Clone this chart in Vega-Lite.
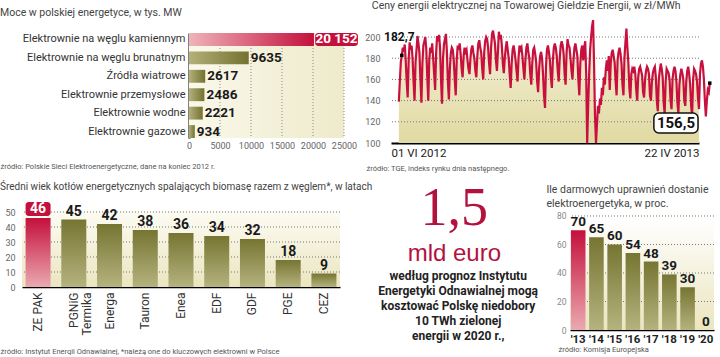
{
"$schema": "https://vega.github.io/schema/vega-lite/v6.json",
"padding": {"left": 0, "top": 1, "right": 0, "bottom": 0},
"background": "white",
"config": {
  "font": "Roboto, Liberation Sans, sans-serif",
  "view": {"stroke": null},
  "title": {"fontSize": 10.5, "fontWeight": "normal", "color": "#444", "anchor": "start", "frame": "bounds"},
  "axis": {"ticks": false, "grid": false, "labelOverlap": false, "labelLimit": 0}
},
"datasets": {
  "tge": [
{"d":8,"v":139},{"d":9,"v":158},{"d":10,"v":176},{"d":11,"v":182.7},{"d":12,"v":190},{"d":13,"v":186},{"d":14,"v":193},{"d":15,"v":178},{"d":16,"v":158},{"d":17,"v":143},
{"d":18,"v":178},{"d":19,"v":195},{"d":20,"v":188},{"d":21,"v":192},{"d":22,"v":180},{"d":23,"v":158},{"d":24,"v":140},
{"d":25,"v":176},{"d":26,"v":188},{"d":27,"v":201},{"d":28,"v":194},{"d":29,"v":185},{"d":30,"v":160},{"d":31,"v":138},
{"d":32,"v":175},{"d":33,"v":192},{"d":34,"v":196},{"d":35,"v":200},{"d":36,"v":188},{"d":37,"v":162},{"d":38,"v":140},
{"d":39,"v":178},{"d":40,"v":190},{"d":41,"v":185},{"d":42,"v":194},{"d":43,"v":180},{"d":44,"v":165},{"d":45,"v":150},
{"d":46,"v":185},{"d":47,"v":201},{"d":48,"v":196},{"d":49,"v":202},{"d":50,"v":190},{"d":51,"v":160},{"d":52,"v":137},
{"d":53,"v":180},{"d":54,"v":193},{"d":55,"v":198},{"d":56,"v":203},{"d":57,"v":186},{"d":58,"v":158},{"d":59,"v":141},
{"d":60,"v":170},{"d":61,"v":185},{"d":62,"v":190},{"d":63,"v":188},{"d":64,"v":178},{"d":65,"v":160},{"d":66,"v":145},
{"d":67,"v":178},{"d":68,"v":192},{"d":69,"v":188},{"d":70,"v":194},{"d":71,"v":184},{"d":72,"v":170},{"d":73,"v":162},
{"d":74,"v":182},{"d":75,"v":190},{"d":76,"v":186},{"d":77,"v":188},{"d":78,"v":178},{"d":79,"v":170},{"d":80,"v":165},
{"d":81,"v":180},{"d":82,"v":189},{"d":83,"v":192},{"d":84,"v":185},{"d":85,"v":180},{"d":86,"v":168},{"d":87,"v":162},
{"d":88,"v":182},{"d":89,"v":194},{"d":90,"v":197},{"d":91,"v":190},{"d":92,"v":185},{"d":93,"v":170},{"d":94,"v":160},
{"d":95,"v":185},{"d":96,"v":196},{"d":97,"v":200},{"d":98,"v":198},{"d":99,"v":190},{"d":100,"v":175},{"d":101,"v":165},
{"d":102,"v":190},{"d":103,"v":203},{"d":104,"v":206},{"d":105,"v":200},{"d":106,"v":194},{"d":107,"v":178},{"d":108,"v":168},
{"d":109,"v":186},{"d":110,"v":205},{"d":111,"v":198},{"d":112,"v":202},{"d":113,"v":192},{"d":114,"v":175},{"d":115,"v":166},
{"d":116,"v":180},{"d":117,"v":190},{"d":118,"v":196},{"d":119,"v":188},{"d":120,"v":180},{"d":121,"v":165},{"d":122,"v":152},
{"d":123,"v":175},{"d":124,"v":188},{"d":125,"v":192},{"d":126,"v":186},{"d":127,"v":178},{"d":128,"v":168},{"d":129,"v":158},
{"d":130,"v":180},{"d":131,"v":192},{"d":132,"v":188},{"d":133,"v":190},{"d":134,"v":182},{"d":135,"v":170},{"d":136,"v":160},
{"d":137,"v":178},{"d":138,"v":190},{"d":139,"v":194},{"d":140,"v":186},{"d":141,"v":180},{"d":142,"v":165},{"d":143,"v":155},
{"d":144,"v":175},{"d":145,"v":188},{"d":146,"v":190},{"d":147,"v":184},{"d":148,"v":176},{"d":149,"v":158},{"d":150,"v":148},
{"d":151,"v":170},{"d":152,"v":182},{"d":153,"v":186},{"d":154,"v":180},{"d":155,"v":165},{"d":156,"v":145},{"d":157,"v":133},
{"d":158,"v":172},{"d":159,"v":188},{"d":160,"v":192},{"d":161,"v":186},{"d":162,"v":178},{"d":163,"v":162},{"d":164,"v":152},
{"d":165,"v":178},{"d":166,"v":190},{"d":167,"v":194},{"d":168,"v":190},{"d":169,"v":182},{"d":170,"v":168},{"d":171,"v":158},
{"d":172,"v":180},{"d":173,"v":192},{"d":174,"v":196},{"d":175,"v":192},{"d":176,"v":184},{"d":177,"v":165},{"d":178,"v":155},
{"d":179,"v":185},{"d":180,"v":198},{"d":181,"v":192},{"d":182,"v":190},{"d":183,"v":180},{"d":184,"v":168},{"d":185,"v":160},
{"d":186,"v":178},{"d":187,"v":190},{"d":188,"v":194},{"d":189,"v":188},{"d":190,"v":182},{"d":191,"v":160},{"d":192,"v":145},
{"d":193,"v":175},{"d":194,"v":188},{"d":195,"v":192},
{"d":196,"v":178},{"d":197,"v":190},{"d":198,"v":196},{"d":199,"v":165},{"d":200,"v":100},{"d":201,"v":135},{"d":202,"v":165},
{"d":203,"v":188},{"d":204,"v":200},{"d":205,"v":210},{"d":206,"v":216},{"d":207,"v":175},{"d":208,"v":125},{"d":209,"v":100},
{"d":210,"v":118},{"d":211,"v":135},{"d":212,"v":128},{"d":213,"v":142},{"d":214,"v":136},{"d":215,"v":152},{"d":216,"v":145},
{"d":217,"v":162},{"d":218,"v":155},{"d":219,"v":170},{"d":220,"v":178},{"d":221,"v":168},{"d":222,"v":182},{"d":223,"v":150},
{"d":224,"v":175},{"d":225,"v":185},{"d":226,"v":188},{"d":227,"v":182},{"d":228,"v":176},{"d":229,"v":158},{"d":230,"v":145},
{"d":231,"v":178},{"d":232,"v":186},{"d":233,"v":190},{"d":234,"v":184},{"d":235,"v":175},{"d":236,"v":155},{"d":237,"v":145},
{"d":238,"v":180},{"d":239,"v":195},{"d":240,"v":208},{"d":241,"v":190},{"d":242,"v":175},{"d":243,"v":152},{"d":244,"v":142},
{"d":245,"v":165},{"d":246,"v":170},{"d":247,"v":168},{"d":248,"v":172},{"d":249,"v":166},{"d":250,"v":150},{"d":251,"v":140},
{"d":252,"v":162},{"d":253,"v":170},{"d":254,"v":172},{"d":255,"v":168},{"d":256,"v":164},{"d":257,"v":148},{"d":258,"v":143},
{"d":259,"v":160},{"d":260,"v":168},{"d":261,"v":172},{"d":262,"v":170},{"d":263,"v":165},{"d":264,"v":145},{"d":265,"v":140},
{"d":266,"v":158},{"d":267,"v":166},{"d":268,"v":170},{"d":269,"v":172},{"d":270,"v":162},{"d":271,"v":140},{"d":272,"v":130},
{"d":273,"v":160},{"d":274,"v":168},{"d":275,"v":175},{"d":276,"v":170},{"d":277,"v":162},{"d":278,"v":138},{"d":279,"v":128},
{"d":280,"v":158},{"d":281,"v":170},{"d":282,"v":168},{"d":283,"v":166},{"d":284,"v":160},{"d":285,"v":140},{"d":286,"v":132},
{"d":287,"v":160},{"d":288,"v":168},{"d":289,"v":172},{"d":290,"v":168},{"d":291,"v":158},{"d":292,"v":138},{"d":293,"v":128},
{"d":294,"v":155},{"d":295,"v":165},{"d":296,"v":170},{"d":297,"v":166},{"d":298,"v":160},{"d":299,"v":140},{"d":300,"v":135},
{"d":301,"v":158},{"d":302,"v":168},{"d":303,"v":172},{"d":304,"v":165},{"d":305,"v":155},{"d":306,"v":135},{"d":307,"v":125},
{"d":308,"v":160},{"d":309,"v":170},{"d":310,"v":168},{"d":311,"v":165},{"d":312,"v":158},{"d":313,"v":142},{"d":314,"v":132},
{"d":315,"v":165},{"d":316,"v":175},{"d":317,"v":178},{"d":318,"v":172},{"d":319,"v":160},{"d":320,"v":140},{"d":321,"v":125},
{"d":322,"v":140},{"d":323,"v":150},{"d":324,"v":148},{"d":325,"v":156.5}
  ]
},
"spacing": 9,
"vconcat": [
{
"spacing": 6,
"hconcat": [
{
  "width": 322, "height": 105,
  "title": {"text": "Moce w polskiej energetyce, w tys. MW", "offset": 14},
  "data": {"values": [
    {"k": "Elektrownie na węglu kamiennym", "v": 20152, "t": "20 152", "hi": 1},
    {"k": "Elektrownie na węglu brunatnym", "v": 9635, "t": "9635", "hi": 0},
    {"k": "Źródła wiatrowe", "v": 2617, "t": "2617", "hi": 0},
    {"k": "Elektrownie przemysłowe", "v": 2486, "t": "2486", "hi": 0},
    {"k": "Elektrownie wodne", "v": 2221, "t": "2221", "hi": 0},
    {"k": "Elektrownie gazowe", "v": 934, "t": "934", "hi": 0}
  ]},
  "layer": [
    {"data": {"values": [{}]}, "mark": {"type": "rect", "fill": {"gradient": "linear", "x1": 0, "y1": 0, "x2": 1, "y2": 0, "stops": [{"offset": 0, "color": "#faf8ea"}, {"offset": 1, "color": "#eeeacb"}]}},
     "encoding": {"x": {"datum": 0, "type": "quantitative"}, "x2": {"datum": 25000}}},
    {"data": {"values": [{"g": 5000}, {"g": 10000}, {"g": 15000}, {"g": 20000}, {"g": 25000}]}, "mark": {"type": "rule", "color": "#8a8a8a", "strokeDash": [1, 2]},
     "encoding": {"x": {"field": "g", "type": "quantitative"}}},
    {"transform": [{"filter": "datum.hi == 0"}], "mark": {"type": "bar", "fill": {"gradient": "linear", "x1": 0, "y1": 0, "x2": 1, "y2": 0, "stops": [{"offset": 0, "color": "#b3b07a"}, {"offset": 1, "color": "#737230"}]}},
     "encoding": {
       "x": {"field": "v", "type": "quantitative", "scale": {"domain": [-26935, 25000], "nice": false, "zero": false},
             "axis": {"values": [0, 5000, 10000, 15000, 20000, 25000], "tickCount": 30, "labelFlush": false, "format": "d", "domain": false, "labelOverlap": false, "labelFontSize": 9, "labelColor": "#666", "labelPadding": 3,
                      "title": "źródło: Polskie Sieci Elektroenergetyczne, dane na koniec 2012 r.", "titleAnchor": "start", "titleAlign": "left", "titleX": -22, "titleFontSize": 7.5, "titleFontWeight": "normal", "titleColor": "#555", "titlePadding": 12}},
       "y": {"field": "k", "type": "nominal", "sort": null,
             "scale": {"domain": ["Elektrownie na węglu kamiennym", "Elektrownie na węglu brunatnym", "Źródła wiatrowe", "Elektrownie przemysłowe", "Elektrownie wodne", "Elektrownie gazowe"], "paddingInner": 0.3, "paddingOuter": 0},
             "axis": {"title": null, "offset": -167, "domainColor": "#000", "domainWidth": 2, "labelFontSize": 11, "labelColor": "#333", "labelPadding": 4}}
     }},
    {"transform": [{"filter": "datum.hi == 1"}], "mark": {"type": "bar", "fill": {"gradient": "linear", "x1": 0, "y1": 0, "x2": 1, "y2": 0, "stops": [{"offset": 0, "color": "#efb3ba"}, {"offset": 1, "color": "#c4103c"}]}},
     "encoding": {"x": {"field": "v", "type": "quantitative"}, "y": {"field": "k", "type": "nominal", "sort": null}}},
    {"transform": [{"filter": "datum.hi == 0"}], "mark": {"type": "text", "align": "left", "baseline": "middle", "dx": 2, "fontWeight": "bold", "fontSize": 13.5, "color": "#1a1a1a"},
     "encoding": {"x": {"field": "v", "type": "quantitative"}, "y": {"field": "k", "type": "nominal", "sort": null}, "text": {"field": "t"}}},
    {"transform": [{"filter": "datum.hi == 1"}], "mark": {"type": "rect", "fill": "#c4103c", "cornerRadius": 3},
     "encoding": {"x": {"datum": 20350}, "x2": {"datum": 27250}, "y": {"field": "k", "type": "nominal", "sort": null}}},
    {"transform": [{"filter": "datum.hi == 1"}], "mark": {"type": "text", "align": "center", "baseline": "middle", "fontWeight": "bold", "fontSize": 13.5, "color": "#ffffff"},
     "encoding": {"x": {"datum": 23800}, "y": {"field": "k", "type": "nominal", "sort": null}, "text": {"field": "t"}}}
  ]
},
{
  "width": 308, "height": 110,
  "title": {"text": "Ceny energii elektrycznej na Towarowej Giełdzie Energii, w zł/MWh", "offset": 4, "dx": 7},
  "layer": [
    {"data": {"name": "tge"}, "transform": [{"filter": "datum.d <= 314"}],
     "mark": {"type": "area", "fill": {"gradient": "linear", "x1": 0, "y1": 0, "x2": 0, "y2": 1, "stops": [{"offset": 0, "color": "#f7f4de"}, {"offset": 1, "color": "#e0d9a2"}]}},
     "encoding": {
       "x": {"field": "d", "type": "quantitative", "scale": {"domain": [0, 314], "nice": false, "zero": false},
             "axis": {"values": [0, 314], "tickCount": 30, "labelExpr": "datum.value == 0 ? '01 VI 2012' : '22 IV 2013'", "labelFlush": true, "labelOverlap": false, "domainColor": "#000", "domainWidth": 2, "labelFontSize": 11.5, "labelColor": "#222", "labelPadding": 4,
                      "title": "źródło: TGE, indeks rynku dnia następnego.", "titleAnchor": "start", "titleAlign": "left", "titleX": -25, "titleFontSize": 7.5, "titleFontWeight": "normal", "titleColor": "#555", "titlePadding": 6}},
       "y": {"field": "v", "type": "quantitative", "scale": {"domain": [100, 203.8], "nice": false, "zero": false},
             "axis": {"values": [100, 120, 140, 160, 180, 200], "tickCount": 30, "labelOverlap": false, "domain": false, "labelFontSize": 9, "labelColor": "#666", "labelPadding": 11, "title": null}},
       "y2": {"datum": 100}
     }},
    {"data": {"values": [{"g": 120}, {"g": 140}, {"g": 160}, {"g": 180}, {"g": 200}]}, "mark": {"type": "rule", "color": "#777", "strokeDash": [1, 2]},
     "encoding": {"y": {"field": "g", "type": "quantitative"}}},
    {"data": {"name": "tge"}, "mark": {"type": "line", "color": "#c8103e", "strokeWidth": 2.2},
     "encoding": {"x": {"field": "d", "type": "quantitative"}, "y": {"field": "v", "type": "quantitative"}}},
    {"data": {"values": [{"d": 11, "v": 182.7}, {"d": 325, "v": 156.5}]}, "mark": {"type": "square", "color": "#000", "opacity": 1, "size": 12},
     "encoding": {"x": {"field": "d", "type": "quantitative"}, "y": {"field": "v", "type": "quantitative"}}},
    {"data": {"values": [{"d": 8.5, "v": 200, "t": "182,7"}]}, "mark": {"type": "text", "baseline": "middle", "align": "center", "fontWeight": "bold", "fontSize": 12, "color": "#111"},
     "encoding": {"x": {"field": "d", "type": "quantitative"}, "y": {"field": "v", "type": "quantitative"}, "text": {"field": "t"}}},
    {"data": {"values": [{}]}, "mark": {"type": "rect", "fill": "#ffffff", "stroke": "#111", "strokeWidth": 1.5, "cornerRadius": 5},
     "encoding": {"x": {"datum": 268}, "x2": {"datum": 313}, "y": {"datum": 109.5}, "y2": {"datum": 128.3}}},
    {"data": {"values": [{"d": 290.5, "v": 119, "t": "156,5"}]}, "mark": {"type": "text", "baseline": "middle", "align": "center", "fontWeight": "bold", "fontSize": 15, "color": "#111"},
     "encoding": {"x": {"field": "d", "type": "quantitative"}, "y": {"field": "v", "type": "quantitative"}, "text": {"field": "t"}}}
  ]
}
]
},
{
"spacing": 5,
"hconcat": [
{
  "width": 318, "height": 75,
  "title": {"text": "Średni wiek kotłów energetycznych spalających biomasę razem z węglem*, w latach", "offset": 10, "fontSize": 10},
  "data": {"values": [
    {"k": "ZE PAK", "v": 46, "hi": 1},
    {"k": "PGNiG Termika", "v": 45, "hi": 0},
    {"k": "Energa", "v": 42, "hi": 0},
    {"k": "Tauron", "v": 38, "hi": 0},
    {"k": "Enea", "v": 36, "hi": 0},
    {"k": "EDF", "v": 34, "hi": 0},
    {"k": "GDF", "v": 32, "hi": 0},
    {"k": "PGE", "v": 18, "hi": 0},
    {"k": "CEZ", "v": 9, "hi": 0}
  ]},
  "layer": [
    {"data": {"values": [{}]}, "mark": {"type": "rect", "fill": {"gradient": "linear", "x1": 0, "y1": 0, "x2": 0, "y2": 1, "stops": [{"offset": 0, "color": "#fdfcf4"}, {"offset": 1, "color": "#ebe5bf"}]}},
     "encoding": {"y": {"datum": 0, "type": "quantitative"}, "y2": {"datum": 51}}},
    {"data": {"values": [{"g": 10}, {"g": 20}, {"g": 30}, {"g": 40}, {"g": 50}]}, "mark": {"type": "rule", "color": "#777", "strokeDash": [1, 2]},
     "encoding": {"y": {"field": "g", "type": "quantitative"}}},
    {"transform": [{"filter": "datum.hi == 0"}], "mark": {"type": "bar", "fill": {"gradient": "linear", "x1": 0, "y1": 0, "x2": 0, "y2": 1, "stops": [{"offset": 0, "color": "#767532"}, {"offset": 1, "color": "#b5b37e"}]}},
     "encoding": {
       "x": {"field": "k", "type": "nominal", "sort": null,
             "scale": {"domain": ["ZE PAK", "PGNiG Termika", "Energa", "Tauron", "Enea", "EDF", "GDF", "PGE", "CEZ"], "paddingInner": 0.3, "paddingOuter": 0.1},
             "axis": {"labelAngle": -90, "labelExpr": "datum.value == 'PGNiG Termika' ? ['PGNiG', 'Termika'] : datum.value", "domainColor": "#000", "domainWidth": 1.5, "labelFontSize": 12, "labelColor": "#333", "labelPadding": 5, "labelLineHeight": 13,
                      "title": "źródło: Instytut Energii Odnawialnej, *należą one do kluczowych elektrowni w Polsce", "titleAnchor": "start", "titleAlign": "left", "titleX": -22, "titleFontSize": 7.5, "titleFontWeight": "normal", "titleColor": "#555", "titlePadding": 12}},
       "y": {"field": "v", "type": "quantitative", "scale": {"domain": [0, 50], "nice": false},
             "axis": {"values": [0, 10, 20, 30, 40, 50], "tickCount": 30, "labelOverlap": false, "domain": false, "labelFontSize": 9, "labelColor": "#666", "labelPadding": 7, "title": null}}
     }},
    {"transform": [{"filter": "datum.hi == 1"}], "mark": {"type": "bar", "fill": {"gradient": "linear", "x1": 0, "y1": 0, "x2": 0, "y2": 1, "stops": [{"offset": 0, "color": "#c4103c"}, {"offset": 1, "color": "#eba9b1"}]}},
     "encoding": {"x": {"field": "k", "type": "nominal", "sort": null}, "y": {"field": "v", "type": "quantitative"}}},
    {"transform": [{"filter": "datum.hi == 0"}], "mark": {"type": "text", "baseline": "bottom", "dy": -1, "fontWeight": "bold", "fontSize": 14, "color": "#1a1a1a"},
     "encoding": {"x": {"field": "k", "type": "nominal", "sort": null}, "y": {"field": "v", "type": "quantitative"}, "text": {"field": "v"}}},
    {"transform": [{"filter": "datum.hi == 1"}], "mark": {"type": "rect", "fill": "#c4103c", "cornerRadius": 3},
     "encoding": {"x": {"field": "k", "type": "nominal", "sort": null}, "y": {"datum": 47.3}, "y2": {"datum": 56.7}}},
    {"transform": [{"filter": "datum.hi == 1"}], "mark": {"type": "text", "baseline": "middle", "fontWeight": "bold", "fontSize": 14, "color": "#ffffff"},
     "encoding": {"x": {"field": "k", "type": "nominal", "sort": null}, "y": {"datum": 52}, "text": {"field": "v"}}}
  ]
},
{
  "width": 152, "height": 130,
  "data": {"values": [
    {"t": "według prognoz Instytutu", "n": 1},
    {"t": "Energetyki Odnawialnej mogą", "n": 2},
    {"t": "kosztować Polskę niedobory", "n": 3},
    {"t": "10 TWh zielonej", "n": 4},
    {"t": "energii w 2020 r.,", "n": 5}
  ]},
  "layer": [
    {"mark": {"type": "text", "align": "center", "baseline": "middle", "fontWeight": "bold", "fontSize": 12, "color": "#222"},
     "encoding": {
       "x": {"datum": 0.455, "type": "quantitative", "scale": {"domain": [0, 1]}, "axis": null},
       "y": {"field": "n", "type": "quantitative", "scale": {"domain": [-3.27, 5.4], "reverse": true, "nice": false, "zero": false}, "axis": null},
       "text": {"field": "t"}
     }},
    {"data": {"values": [{"t": "1,5"}]}, "mark": {"type": "text", "align": "center", "baseline": "middle", "font": "Liberation Serif, DejaVu Serif, serif", "fontSize": 54, "color": "#b3123f"},
     "encoding": {"x": {"datum": 0.43, "type": "quantitative"}, "y": {"datum": -3.5, "type": "quantitative"}, "text": {"field": "t"}}},
    {"data": {"values": [{"t": "mld euro"}]}, "mark": {"type": "text", "align": "center", "baseline": "middle", "font": "Liberation Sans, Arial, sans-serif", "fontSize": 24, "color": "#b3123f"},
     "encoding": {"x": {"datum": 0.43, "type": "quantitative"}, "y": {"datum": -0.45, "type": "quantitative"}, "text": {"field": "t"}}}
  ]
},
{
  "width": 144, "height": 118,
  "title": {"text": ["Ile darmowych uprawnień dostanie", "elektroenergetyka, w proc."], "lineHeight": 14, "offset": 2, "dx": -10},
  "data": {"values": [
    {"k": "'13", "v": 70, "hi": 1},
    {"k": "'14", "v": 65, "hi": 0},
    {"k": "'15", "v": 60, "hi": 0},
    {"k": "'16", "v": 54, "hi": 0},
    {"k": "'17", "v": 48, "hi": 0},
    {"k": "'18", "v": 39, "hi": 0},
    {"k": "'19", "v": 30, "hi": 0},
    {"k": "'20", "v": 0, "hi": 0}
  ]},
  "layer": [
    {"data": {"values": [{}]}, "mark": {"type": "rect", "fill": {"gradient": "linear", "x1": 0, "y1": 0, "x2": 0, "y2": 1, "stops": [{"offset": 0, "color": "#ffffff"}, {"offset": 1, "color": "#ebe5bf"}]}},
     "encoding": {"y": {"datum": 0, "type": "quantitative"}, "y2": {"datum": 80}}},
    {"data": {"values": [{"g": 20}, {"g": 40}, {"g": 60}, {"g": 80}]}, "mark": {"type": "rule", "color": "#777", "strokeDash": [1, 2]},
     "encoding": {"y": {"field": "g", "type": "quantitative"}}},
    {"transform": [{"filter": "datum.hi == 0"}], "mark": {"type": "bar", "fill": {"gradient": "linear", "x1": 0, "y1": 0, "x2": 0, "y2": 1, "stops": [{"offset": 0, "color": "#767532"}, {"offset": 1, "color": "#b5b37e"}]}},
     "encoding": {
       "x": {"field": "k", "type": "nominal", "sort": null,
             "scale": {"domain": ["'13", "'14", "'15", "'16", "'17", "'18", "'19", "'20"], "paddingInner": 0.2, "paddingOuter": 0.05},
             "axis": {"labelAngle": 0, "domainColor": "#000", "domainWidth": 1.5, "labelFontSize": 11.5, "labelFontWeight": "bold", "labelColor": "#222", "labelPadding": 3,
                      "title": "źródło: Komisja Europejska", "titleAnchor": "start", "titleAlign": "left", "titleX": -12, "titleFontSize": 7.5, "titleFontWeight": "normal", "titleColor": "#555", "titlePadding": 1}},
       "y": {"field": "v", "type": "quantitative", "scale": {"domain": [0, 82.8], "nice": false},
             "axis": {"values": [0, 20, 40, 60, 80], "tickCount": 30, "labelOverlap": false, "domain": false, "labelFontSize": 8.5, "labelColor": "#888", "labelPadding": 4, "title": null}}
     }},
    {"transform": [{"filter": "datum.hi == 1"}], "mark": {"type": "bar", "fill": {"gradient": "linear", "x1": 0, "y1": 0, "x2": 0, "y2": 1, "stops": [{"offset": 0, "color": "#c4103c"}, {"offset": 1, "color": "#eba9b1"}]}},
     "encoding": {"x": {"field": "k", "type": "nominal", "sort": null}, "y": {"field": "v", "type": "quantitative"}}},
    {"mark": {"type": "text", "baseline": "bottom", "dy": -1, "fontWeight": "bold", "fontSize": 13.5, "color": "#1a1a1a"},
     "encoding": {"x": {"field": "k", "type": "nominal", "sort": null}, "y": {"field": "v", "type": "quantitative"}, "text": {"field": "v"}}}
  ]
}
]
}
]
}
